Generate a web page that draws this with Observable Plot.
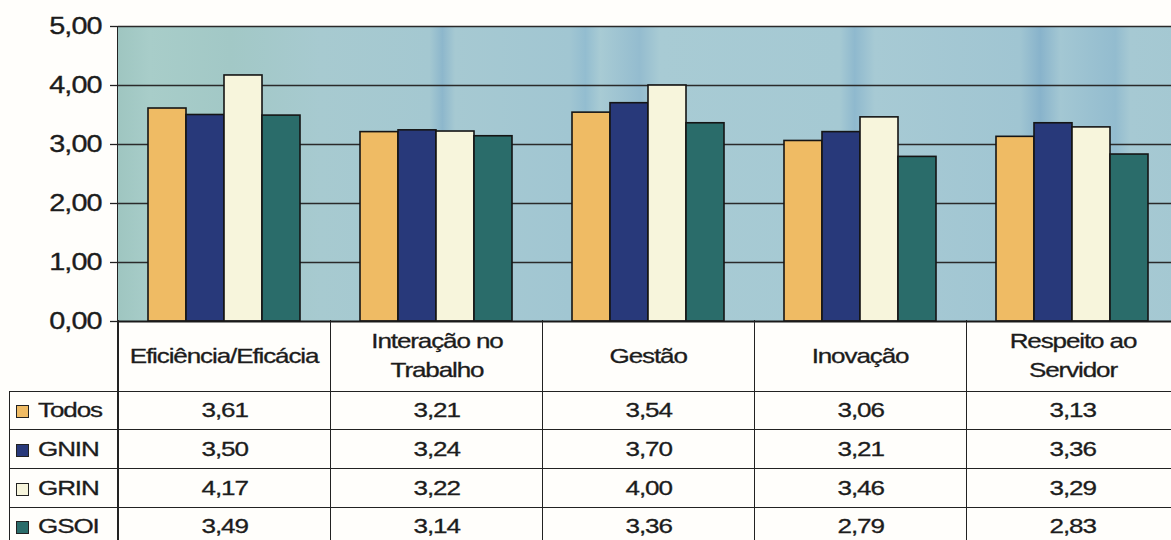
<!DOCTYPE html>
<html>
<head>
<meta charset="utf-8">
<script src="https://cdn.jsdelivr.net/npm/d3@7"></script>
<script src="https://cdn.jsdelivr.net/npm/@observablehq/plot@0.6"></script>
<style>
  html, body { margin: 0; padding: 0; background: #fffefb; overflow: hidden; }
  #wrap { position: relative; width: 1200px; height: 540px; font-family: "Liberation Sans", Arial, sans-serif; color: #1c1c1c; }
  #wrap svg { position: absolute; left: 0; top: 0; z-index: 2; }
  .bg { position: absolute; z-index: 1; }
  .vline { position: absolute; z-index: 3; border-left: 1.5px solid #222; }
  table { position: absolute; z-index: 3; border-collapse: collapse; table-layout: fixed; font-size: 21px; }
  td { padding: 0; text-align: center; vertical-align: middle; border: 1.5px solid #222; }
  td.blank { border: none; border-bottom: 1.5px solid #222; }
  td.leg { text-align: left; white-space: nowrap; }
  .t { display: inline-block; transform: scaleX(1.24); letter-spacing: -0.9px; -webkit-text-stroke: 0.3px #1c1c1c; }
  .h { max-width: 160px; line-height: 29px; }
  .l { transform-origin: 0 50%; }
  .sw { display: inline-block; width: 11px; height: 11px; border: 1.5px solid #222; margin: 0 9px 0 6px; vertical-align: -1px; }
</style>
</head>
<body>
<div id="wrap"></div>
<script>
const categories = ["Eficiência/Eficácia", "Interação no Trabalho", "Gestão", "Inovação", "Respeito ao Servidor"];
const series = ["Todos", "GNIN", "GRIN", "GSOI"];
const todos = [3.61, 3.21, 3.54, 3.06, 3.13];
const gnin  = [3.50, 3.24, 3.70, 3.21, 3.36];
const grin  = [4.17, 3.22, 4.00, 3.46, 3.29];
const gsoi  = [3.49, 3.14, 3.36, 2.79, 2.83];
const yTicks = [0, 1, 2, 3, 4, 5];
const colors = ["#efbb64", "#28397a", "#f7f5dc", "#2a6c6a"];

const values = [todos, gnin, grin, gsoi];
const rows = categories.flatMap((c, i) => series.map((s, j) => ({category: c, series: s, value: values[j][i]})));
const fmt = v => v.toFixed(2).replace(".", ",");

const chart = Plot.plot({
  width: 1200, height: 323,
  marginTop: 26, marginBottom: 2, marginLeft: 116, marginRight: 20,
  style: {background: "transparent", fontFamily: "Liberation Sans, Arial, sans-serif", fontSize: "24px", color: "#1c1c1c", overflow: "visible"},
  fx: {domain: categories, padding: 0, axis: null, label: null},
  x: {domain: series, paddingInner: 0, paddingOuter: 0.76, axis: null},
  y: {domain: [0, 5], axis: null},
  color: {domain: series, range: colors},
  marks: [
    Plot.ruleY(yTicks.filter(t => t > 0), {stroke: "#2a2a2a", strokeWidth: 1.3}),
    Plot.barY(rows, {fx: "category", x: "series", y: "value", fill: "series", stroke: "#151515", strokeWidth: 1.6}),
    Plot.ruleY([0], {stroke: "#1a1a1a", strokeWidth: 2}),
    Plot.axisY({ticks: yTicks, tickSize: 8, tickPadding: 9, tickFormat: fmt, fontSize: 24, stroke: "#222", strokeWidth: 1.3, label: null})
  ]
});

// widen the tick labels like the scanned original's lettering (keep Plot's own translate)
chart.querySelectorAll('g[aria-label="y-axis tick label"] text').forEach(t => {
  const tr = t.getAttribute("transform") || "";
  t.setAttribute("transform", (tr + " scale(1.2,1)").trim());
  t.style.letterSpacing = "-0.8px";
  t.setAttribute("stroke", "#1c1c1c");
  t.setAttribute("stroke-width", "0.35");
});

const wrap = document.getElementById("wrap");
const fx = chart.scale("fx");
const y = chart.scale("y");
const x0 = fx.apply(categories[0]);
const bw = fx.bandwidth;
const x1 = fx.apply(categories[categories.length - 1]) + bw;
const yTop = y.apply(5), yBase = y.apply(0);

// plot-area background (textured blue-green look)
const bg = document.createElement("div");
bg.className = "bg";
const span = x1 - x0;
const stop = (px, c) => `${c} ${((px - x0) / span * 100).toFixed(1)}%`;
bg.style.cssText = `left:${x0}px;top:${yTop}px;width:${span}px;height:${yBase - yTop}px;` +
  `background: linear-gradient(90deg, ${[
    stop(116, "#9ec5c0"), stop(150, "#a8cdc9"), stop(230, "#a2c8c6"), stop(320, "#a7cad0"),
    stop(430, "#a4c8d1"), stop(442, "#8db7cc"), stop(455, "#a6c9d2"), stop(570, "#a1c6d2"),
    stop(585, "#93bdd0"), stop(600, "#a8cbd4"), stop(640, "#94bccf"), stop(660, "#a8cbd4"),
    stop(840, "#a5c9d3"), stop(855, "#8fb9ce"), stop(875, "#a7cad4"), stop(1020, "#a0c5d2"),
    stop(1040, "#88b3cb"), stop(1060, "#a3c7d3"), stop(1115, "#93bccf"), stop(1130, "#a6c9d3"), stop(1180, "#a4c8d2")
  ].join(", ")});`;
wrap.appendChild(bg);
wrap.appendChild(chart);

// left axis line continuing down through the data table
const vl = document.createElement("div");
vl.className = "vline";
vl.style.cssText = `left:${x0 - 0.75}px;top:${yTop}px;height:${540 - yTop}px;`;
wrap.appendChild(vl);

// data table below the chart
const legendLeft = 9;
const table = document.createElement("table");
table.style.left = legendLeft + "px";
table.style.top = (yBase - 1) + "px";
table.style.width = (x1 - legendLeft) + "px";
const cg = document.createElement("colgroup");
[x0 - legendLeft, ...categories.map(() => bw)].forEach(w => {
  const col = document.createElement("col"); col.style.width = w + "px"; cg.appendChild(col);
});
table.appendChild(cg);
const span_ = (text, cls) => { const s = document.createElement("span"); s.className = cls; s.textContent = text; return s; };
const hr = table.insertRow();
hr.style.height = "71px";
const blank = hr.insertCell(); blank.className = "blank";
categories.forEach(c => { const td = hr.insertCell(); td.style.borderTop = "none"; td.appendChild(span_(c, "t h")); });
series.forEach((s, j) => {
  const tr = table.insertRow();
  tr.style.height = "38.7px";
  const lc = tr.insertCell(); lc.className = "leg";
  const sw = document.createElement("span"); sw.className = "sw"; sw.style.background = colors[j];
  lc.appendChild(sw); lc.appendChild(span_(s, "t l"));
  values[j].forEach(v => { const td = tr.insertCell(); td.appendChild(span_(fmt(v), "t")); });
});
wrap.appendChild(table);
</script>
</body>
</html>
